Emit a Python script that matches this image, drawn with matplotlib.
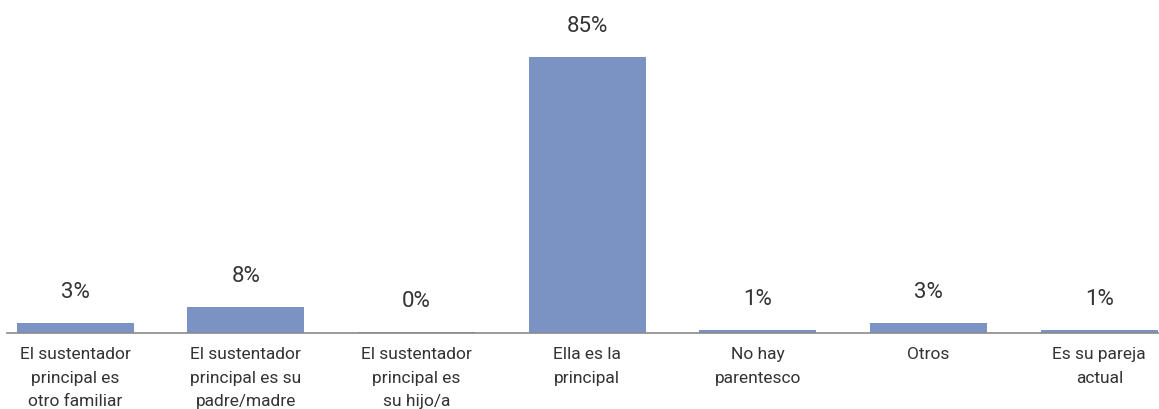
import numpy as np
import matplotlib.pyplot as plt

# Relación con el sustentador principal del hogar
categorias = [
    "El sustentador\nprincipal es\notro familiar",
    "El sustentador\nprincipal es su\npadre/madre",
    "El sustentador\nprincipal es\nsu hijo/a",
    "Ella es la\nprincipal",
    "No hay\nparentesco",
    "Otros",
    "Es su pareja\nactual",
]
porcentajes = [3, 8, 0.4, 85, 1, 3, 1]

plt.rcParams['font.family'] = ['Roboto', 'DejaVu Sans']

fig = plt.figure(figsize=(11.59, 4.09), dpi=100)
ax = fig.add_axes([7 / 1159, 76 / 409, 1 - 7 / 1159, 333 / 409])

x = np.arange(len(categorias))
bars = ax.bar(x, porcentajes, width=0.686, color="#7b93c3", zorder=2)

for b, v in zip(bars, porcentajes):
    ax.annotate(f"{v:.0f}%", (b.get_x() + b.get_width() / 2, b.get_height()),
                xytext=(0, 22), textcoords="offset points",
                ha="center", va="center", fontsize=16, color="#333333")

ax.set_xlim(-0.4, 6.35)
ax.set_ylim(0, 102.5)
ax.set_xticks(x)
ax.set_xticklabels(categorias, fontsize=12.5, color="#333333", linespacing=1.72,
                   va="top")
ax.tick_params(axis="x", length=0, pad=10)
ax.set_yticks([])

for s in ["top", "right", "left"]:
    ax.spines[s].set_visible(False)
ax.spines["bottom"].set_color("#8a8a8a")
ax.spines["bottom"].set_linewidth(1.2)

fig.savefig("out.png", dpi=100)
